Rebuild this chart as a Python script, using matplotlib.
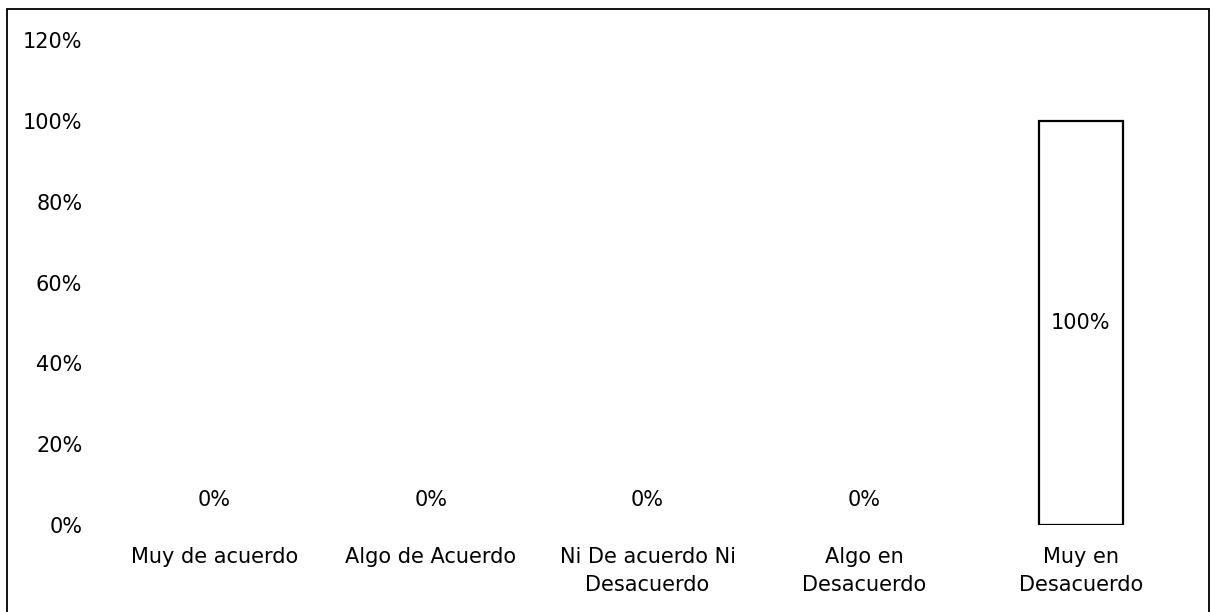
import matplotlib
matplotlib.use("Agg")
import matplotlib.pyplot as plt
from matplotlib.patches import Rectangle
from matplotlib.ticker import PercentFormatter

categories = [
    "Muy de acuerdo",
    "Algo de Acuerdo",
    "Ni De acuerdo Ni\nDesacuerdo",
    "Algo en\nDesacuerdo",
    "Muy en\nDesacuerdo",
]
values = [0.0, 0.0, 0.0, 0.0, 1.0]
yticks = [0.0, 0.2, 0.4, 0.6, 0.8, 1.0, 1.2]

plt.rcParams["font.family"] = ["DejaVu Sans"]
plt.rcParams["font.size"] = 15

fig = plt.figure(figsize=(12.11, 6.12), dpi=100)
ax = fig.add_axes([0.0875, 0.142, 0.8945, 0.7925])

x = list(range(len(categories)))
# empty bars get no outline, only the label
widths = [1.6 if v > 0 else 0 for v in values]
bars = ax.bar(x, values, width=0.385, color="white", edgecolor="black", linewidth=widths)

for xi, v in zip(x, values):
    label = f"{v:.0%}"
    if v == 0:
        ax.annotate(label, (xi, v), xytext=(0, 25), textcoords="offset pixels",
                    ha="center", va="center")
    else:
        ax.annotate(label, (xi, v / 2), ha="center", va="center")

ax.set_xlim(-0.5, len(categories) - 0.5)
ax.set_ylim(0, 1.2)
ax.set_yticks(yticks)
ax.yaxis.set_major_formatter(PercentFormatter(1.0, decimals=0))
ax.set_xticks(x)
ax.set_xticklabels(categories, linespacing=1.5)
ax.tick_params(axis="both", length=0)
ax.tick_params(axis="x", pad=16)
ax.tick_params(axis="y", pad=17)
for side in ax.spines.values():
    side.set_visible(False)

# frame round the whole chart
fig.patches.append(Rectangle((7 / 1211, -0.02), 1202 / 1211, 1.02 - 9 / 612,
                             transform=fig.transFigure, fill=False,
                             edgecolor="black", linewidth=1.3))

fig.savefig("out.png", dpi=100)
